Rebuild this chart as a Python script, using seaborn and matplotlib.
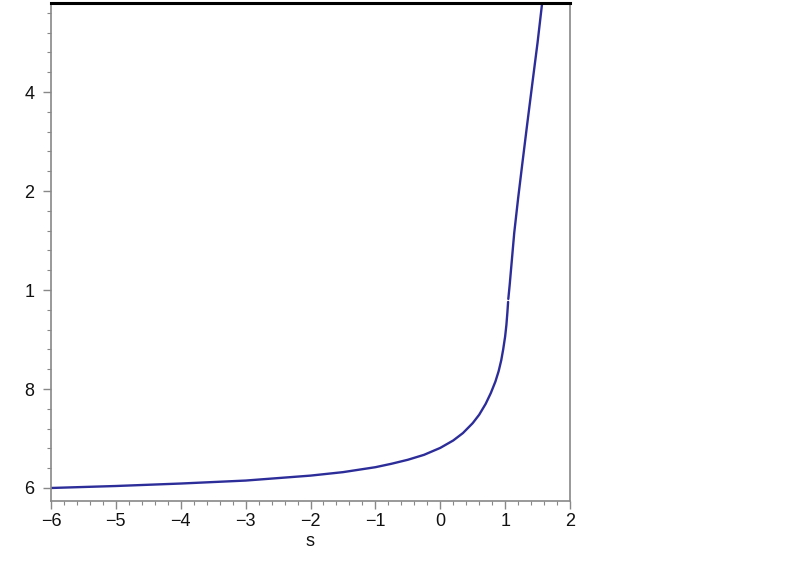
import matplotlib
matplotlib.use("Agg")
import matplotlib.pyplot as plt
import seaborn as sns
import pandas as pd
from matplotlib.ticker import MultipleLocator

# lower branch (below the small gap)
s_low = [-6.0, -5.0, -4.0, -3.0, -2.0, -1.5, -1.0, -0.75, -0.5, -0.25, 0.0, 0.2, 0.35, 0.5, 0.6, 0.7, 0.78, 0.85, 0.9, 0.94, 0.97, 1.0, 1.02, 1.035, 1.046]
y_low = [0.600, 0.604, 0.609, 0.615, 0.625, 0.632, 0.642, 0.649, 0.657, 0.667, 0.681, 0.696, 0.711, 0.731, 0.748, 0.770, 0.792, 0.815, 0.836, 0.858, 0.880, 0.906, 0.930, 0.955, 0.976]
# upper branch (above the gap)
s_up = [1.049, 1.07, 1.10, 1.14, 1.20, 1.26, 1.34, 1.42, 1.50, 1.575]
y_up = [0.982, 1.010, 1.055, 1.115, 1.185, 1.250, 1.335, 1.418, 1.500, 1.585]

x_ticks = [-6, -5, -4, -3, -2, -1, 0, 1, 2]
x_labels = ["\u22126", "\u22125", "\u22124", "\u22123", "\u22122", "\u22121", "0", "1", "2"]
y_ticks = [0.6, 0.8, 1.0, 1.2, 1.4]
y_labels = ["6", "8", "1", "2", "4"]
x_title = "s"

sns.set_theme(style="white")
plt.rcParams['font.family'] = ['Liberation Sans', 'DejaVu Sans']

fig = plt.figure(figsize=(7.97, 5.67), dpi=100)
ax = fig.add_axes([51/797, 66/567, (570-51)/797, (501-3)/567])

line_color = "#2d2d9a"
df_low = pd.DataFrame({"s": s_low, "y": y_low})
df_up = pd.DataFrame({"s": s_up, "y": y_up})
sns.lineplot(data=df_low, x="s", y="y", sort=False, color=line_color, lw=1.7, ax=ax)
sns.lineplot(data=df_up, x="s", y="y", sort=False, color=line_color, lw=1.7, ax=ax)

ax.set_xlim(-6.0, 2.0)
ax.set_ylim(0.5737, 1.580)

for side in ["left", "right", "bottom"]:
    ax.spines[side].set_color("#888888")
    ax.spines[side].set_linewidth(1.2)
ax.spines["top"].set_color("black")
ax.spines["top"].set_linewidth(2.2)

ax.set_xticks(x_ticks)
ax.set_xticklabels(x_labels)
ax.set_yticks(y_ticks)
ax.set_yticklabels(y_labels)
ax.xaxis.set_minor_locator(MultipleLocator(0.2))
ax.yaxis.set_minor_locator(MultipleLocator(0.04))
ax.tick_params(axis="both", which="major", direction="out", length=6, width=1, color="#888888",
               labelsize=13, labelcolor="#111111", bottom=True, left=True)
ax.tick_params(axis="both", which="minor", direction="out", length=3, width=0.8, color="#888888",
               bottom=True, left=True)
ax.tick_params(axis="y", which="major", pad=6)
ax.tick_params(axis="x", which="major", pad=3)
ax.set_xlabel(x_title, fontsize=13, color="#111111", labelpad=2)
ax.set_ylabel("")

fig.savefig("out.png", dpi=100)
